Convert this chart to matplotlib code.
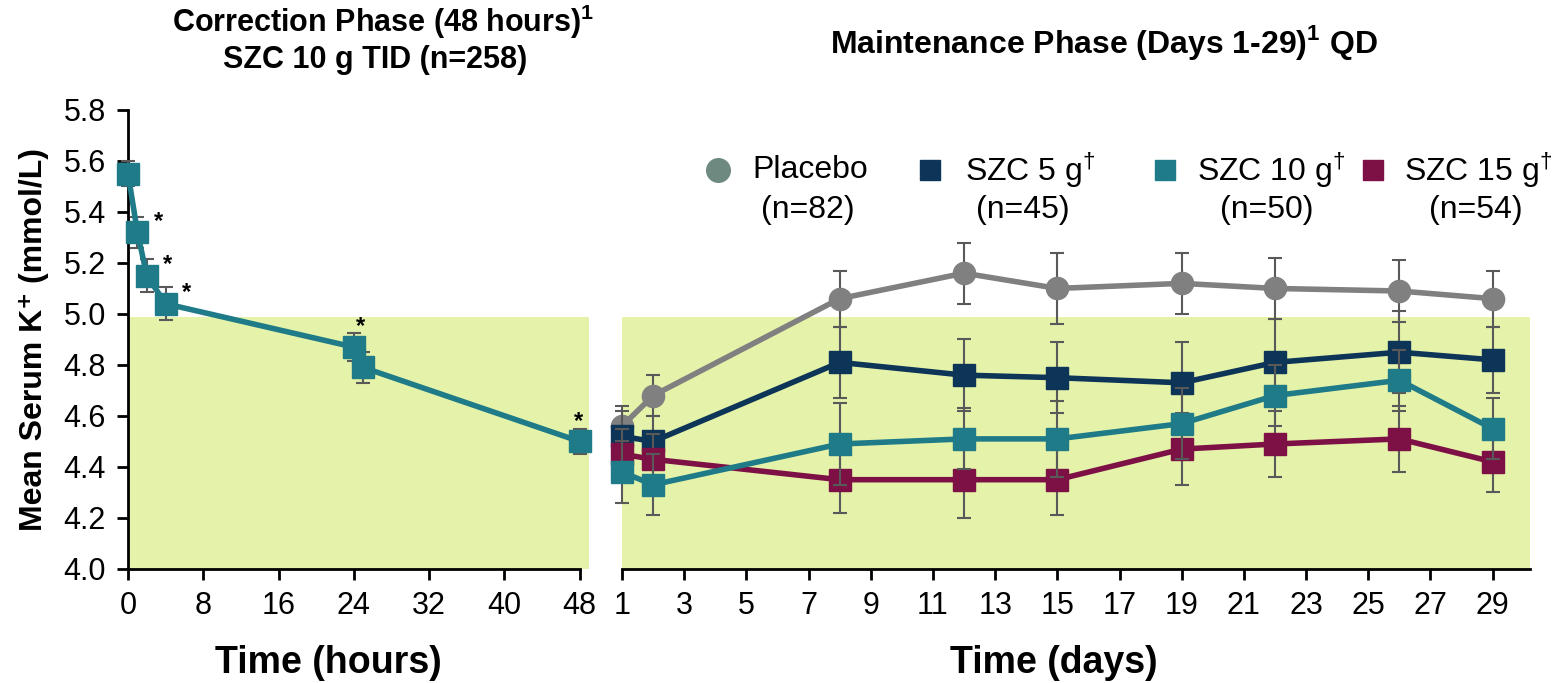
import matplotlib
matplotlib.use('Agg')
from matplotlib import pyplot as plt

plt.rcParams['font.family'] = ['Liberation Sans', 'DejaVu Sans']
plt.rcParams['mathtext.fontset'] = 'custom'
plt.rcParams['mathtext.rm'] = 'Liberation Sans'
plt.rcParams['mathtext.bf'] = 'Liberation Sans:bold'

# correction phase, SZC 10 g TID
hours = [0, 1, 2, 4, 24, 25, 48]
k_corr = [5.55, 5.32, 5.15, 5.04, 4.87, 4.79, 4.50]
k_corr_err = [0.05, 0.06, 0.065, 0.065, 0.055, 0.06, 0.05]
star_hours = [1, 2, 4, 24, 48]

# maintenance phase
days = [1, 2, 8, 12, 15, 19, 22, 26, 29]
placebo = [4.56, 4.68, 5.06, 5.16, 5.10, 5.12, 5.10, 5.09, 5.06]
placebo_err = [0.08, 0.08, 0.11, 0.12, 0.14, 0.12, 0.12, 0.12, 0.11]
szc5 = [4.52, 4.50, 4.81, 4.76, 4.75, 4.73, 4.81, 4.85, 4.82]
szc5_err = [0.10, 0.10, 0.14, 0.14, 0.14, 0.16, 0.17, 0.16, 0.13]
szc10 = [4.38, 4.33, 4.49, 4.51, 4.51, 4.57, 4.68, 4.74, 4.55]
szc10_err = [0.12, 0.12, 0.16, 0.12, 0.15, 0.14, 0.12, 0.12, 0.12]
szc15 = [4.45, 4.43, 4.35, 4.35, 4.35, 4.47, 4.49, 4.51, 4.42]
szc15_err = [0.10, 0.10, 0.13, 0.15, 0.14, 0.14, 0.13, 0.13, 0.12]

legend_names = ['Placebo', 'SZC 5 g$^{\\dagger}$', 'SZC 10 g$^{\\dagger}$', 'SZC 15 g$^{\\dagger}$']
legend_n = ['(n=82)', '(n=45)', '(n=50)', '(n=54)']

GRAY = '#808080'
NAVY = '#0d3557'
TEAL = '#1e7b87'
MAROON = '#7d1146'
BAND = '#e5f2aa'
ERR = '#595959'

fig = plt.figure(figsize=(15.52, 6.83), dpi=100)
ax1 = fig.add_axes([0.0825, 0.167, 0.297, 0.672])
ax2 = fig.add_axes([0.4008, 0.167, 0.585, 0.672])

for ax in (ax1, ax2):
    ax.set_ylim(4.0, 5.8)
    ax.spines['top'].set_visible(False)
    ax.spines['right'].set_visible(False)
    ax.spines['bottom'].set_linewidth(2)
    ax.spines['left'].set_linewidth(2)
    ax.tick_params(direction='out', length=8, width=2, labelsize=22, pad=8)

# normokalaemia band
ax1.axhspan(4.0, 4.99, color=BAND, zorder=0, lw=0)
ax2.axhspan(4.0, 4.99, color=BAND, zorder=0, lw=0)

ax1.set_xlim(0, 49)
ax1.set_xticks(range(0, 49, 8))
ax1.set_yticks([4.0, 4.2, 4.4, 4.6, 4.8, 5.0, 5.2, 5.4, 5.6, 5.8])
ax1.set_yticklabels([f'{v:.1f}' for v in ax1.get_yticks()])
ax1.spines['bottom'].set_bounds(0, 48)

ax1.errorbar(hours, k_corr, yerr=k_corr_err, color=TEAL, lw=4, marker='s',
             ms=16, ecolor=ERR, elinewidth=1.5, capsize=5, capthick=1.5,
             clip_on=False, zorder=3)
for h in star_hours:
    y = k_corr[hours.index(h)]
    if h < 10:
        off = (15, 8)
    elif h < 40:
        off = (5, 15)
    else:
        off = (-1, 14)
    ax1.annotate('*', (h, y), xytext=off, textcoords='offset points',
                 ha='center', va='center', fontsize=17, fontweight='bold')

ax1.set_xlabel('Time (hours)', fontsize=27, fontweight='bold')
ax1.xaxis.set_label_coords(0.435, -0.165)
ax1.set_ylabel('Mean Serum K\u207a (mmol/L)', fontsize=23, fontweight='bold', labelpad=10)

ax2.set_xlim(1, 30.2)
ax2.set_xticks(range(1, 30, 2))
ax2.spines['left'].set_visible(False)
ax2.tick_params(axis='y', left=False, labelleft=False)

series = [
    (placebo, placebo_err, GRAY, 'o'),
    (szc5, szc5_err, NAVY, 's'),
    (szc15, szc15_err, MAROON, 's'),
    (szc10, szc10_err, TEAL, 's'),
]
for i, (vals, err, col, mk) in enumerate(series):
    ax2.errorbar(days, vals, yerr=err, color=col, lw=4, marker=mk,
                 ms=16, ecolor=ERR, elinewidth=1.5, capsize=5, capthick=1.5,
                 clip_on=False, zorder=3 + i)

ax2.set_xlabel('Time (days)', fontsize=27, fontweight='bold')
ax2.xaxis.set_label_coords(0.476, -0.165)

# legend drawn by hand
leg_marker_x = [718, 930, 1165, 1373]
leg_text_x = [752, 965, 1197, 1404]
leg_n_x = [808, 1023, 1267, 1476]
leg_cols = ['#6e8a80', NAVY, TEAL, MAROON]
for mx, tx, nx, col, name, n, mk in zip(leg_marker_x, leg_text_x, leg_n_x, leg_cols,
                                        legend_names, legend_n, ['o', 's', 's', 's']):
    fig.lines.append(plt.Line2D([mx / 1552], [1 - 170 / 683], transform=fig.transFigure,
                                marker=mk, color=col, ms=17 if mk == 'o' else 15, ls=''))
    fig.text(tx / 1552, 1 - 170 / 683, name, fontsize=23, va='center', ha='left')
    fig.text(nx / 1552, 1 - 210 / 683, n, fontsize=23, va='center', ha='center')

# phase titles
fig.text(383 / 1552, 1 - 22 / 683, 'Correction Phase (48 hours)$^{\\mathbf{1}}$', fontsize=22,
         fontweight='bold', ha='center', va='center')
fig.text(375 / 1552, 1 - 60 / 683, 'SZC 10 g TID (n=258)', fontsize=22,
         fontweight='bold', ha='center', va='center')
fig.text(1104 / 1552, 1 - 42 / 683, 'Maintenance Phase (Days 1-29)$^{\\mathbf{1}}$ QD', fontsize=23,
         fontweight='bold', ha='center', va='center')

fig.savefig('out.png', dpi=100)
